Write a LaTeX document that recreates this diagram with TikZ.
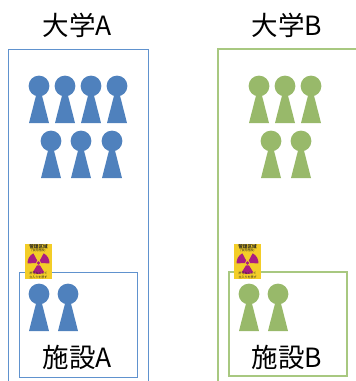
\documentclass[tikz,border=0pt]{standalone}
\usepackage{fontspec}
\setmainfont{Noto Sans CJK JP}
\definecolor{blueA}{RGB}{79,129,189}
\definecolor{blueLine}{RGB}{96,146,206}
\definecolor{greenB}{RGB}{152,185,106}
\definecolor{greenLine}{RGB}{168,200,128}
\definecolor{signY}{RGB}{243,205,40}
\definecolor{signM}{RGB}{170,30,130}
\tikzset{
  titlelabel/.style={font=\fontsize{26.5}{28}\selectfont,inner sep=0pt},
  signtext/.style={font=\fontsize{4.6}{5}\selectfont\bfseries,inner sep=0pt,text=black!85},
  signsmall/.style={font=\fontsize{3}{3.2}\selectfont,inner sep=0pt,text=black!85},
  person/.pic={
    \fill (0,0) circle (10.4);
    \fill (-2.6,8) -- (2.6,8) -- (10,37) -- (-10,37) -- cycle;
  },
  radsign/.pic={
    \fill[signY] (0,0) rectangle (27,35);
    \node[signtext] (signtop) at (13.5,3) {管理区域};
    \node[signsmall] (signsub) at (13.5,7) {(使用施設)};
    \fill[signM] (13.5,19) circle (1.9);
    \foreach \ang in {90,210,330}{
      \fill[signM] (13.5,19) ++(\ang-32:2.8) arc (\ang-32:\ang+32:2.8) -- ++(\ang+32:8.2) arc (\ang+32:\ang-32:11) -- cycle;
    }
    \node[signsmall] (signbot) at (13.5,29.5) {許可なくして};
    \node[signsmall] (signend) at (13.5,33) {立入りを禁ず};
  }
}
\begin{document}
\begin{tikzpicture}[x=1pt,y=-1pt]
  \useasboundingbox (0,0) rectangle (356,381);
  % university A
  \node[titlelabel] (univA) at (77.5,25) {大学A};
  \draw[blueLine,line width=1pt] (8,381) -- (8,49) -- (148,49) -- (148,381);
  \foreach \x in {39,65,91,117} \pic[blueA] at (\x,86) {person};
  \foreach \x in {51,81,112} \pic[blueA] at (\x,141) {person};
  \draw[blueLine,line width=1pt] (19,272) rectangle (137,377);
  \foreach \x in {39,68} \pic[blueA] at (\x,294) {person};
  \pic at (25,244) {radsign};
  \node[titlelabel] (facA) at (77.5,357) {施設A};
  % university B
  \node[titlelabel] (univB) at (287,25) {大学B};
  \draw[greenLine,line width=1.2pt] (218,381) -- (218,49) -- (356,49);
  \foreach \x in {259,285,311} \pic[greenB] at (\x,86) {person};
  \foreach \x in {271,301} \pic[greenB] at (\x,141) {person};
  \draw[greenLine,line width=1.2pt] (229,272) rectangle (347,376);
  \foreach \x in {249,278} \pic[greenB] at (\x,294) {person};
  \pic at (234,244) {radsign};
  \node[titlelabel] (facB) at (287,357) {施設B};
\end{tikzpicture}
\end{document}
